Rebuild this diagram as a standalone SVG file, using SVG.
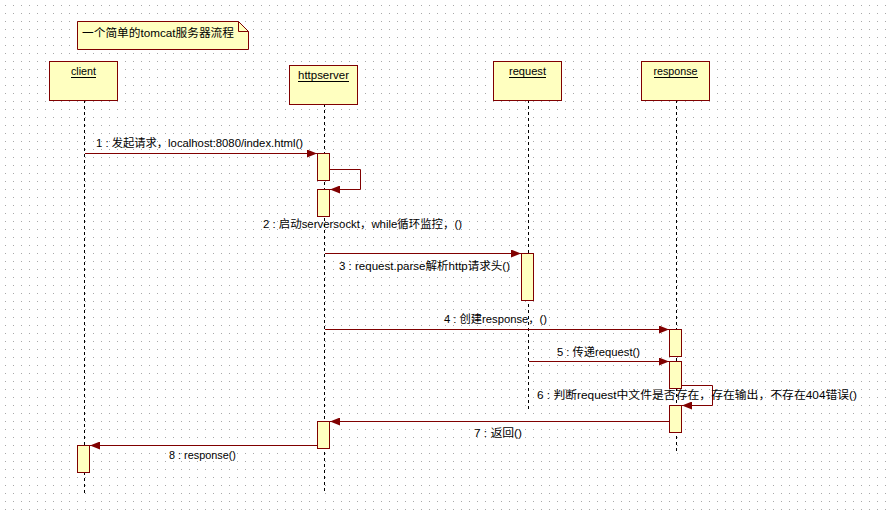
<svg xmlns="http://www.w3.org/2000/svg" width="889" height="511" viewBox="0 0 889 511">
<defs>
<pattern id="grid" x="5" y="5" width="8" height="8" patternUnits="userSpaceOnUse"><rect width="1" height="1" fill="#a8a8a8"/></pattern>
<marker id="ah" viewBox="0 0 10 8" refX="10" refY="4" markerWidth="10" markerHeight="8" orient="auto" markerUnits="userSpaceOnUse"><path d="M0,0 L10,4 L0,8 z" fill="#800000"/></marker>
<style>
.box{fill:#ffffc0;stroke:#800000;stroke-width:1}
.life{stroke:#000;stroke-width:1;stroke-dasharray:3,3;fill:none}
.msg{stroke:#800000;stroke-width:1;fill:none;marker-end:url(#ah)}
.t{font-family:"Liberation Sans","Noto Sans CJK SC",sans-serif;font-size:11px;fill:#000}
.c{text-anchor:middle}
.ul{stroke:#000;stroke-width:1}
</style>
</defs>
<rect width="889" height="511" fill="#fff"/>
<rect width="889" height="511" fill="url(#grid)"/>

<g id="note">
<path class="box" d="M77.5,21.5 H238.5 L248.5,31.5 V49.5 H77.5 Z"/>
<path d="M238.5,21.5 V31.5 H248.5" fill="none" stroke="#800000"/>
<text class="t" x="82" y="37" font-size="12px" textLength="152" lengthAdjust="spacingAndGlyphs">一个简单的tomcat服务器流程</text>
</g>

<g id="lifelines">
<line class="life" x1="84.5" y1="100" x2="84.5" y2="493"/>
<line class="life" x1="324.5" y1="104" x2="324.5" y2="493"/>
<line class="life" x1="528.5" y1="100" x2="528.5" y2="409"/>
<line class="life" x1="676.5" y1="100" x2="676.5" y2="452"/>
</g>

<g id="client">
<rect class="box" x="49.5" y="61.5" width="68" height="39"/>
<text class="t c" x="83.5" y="75" textLength="25" lengthAdjust="spacingAndGlyphs">client</text>
<line class="ul" x1="71" y1="77.5" x2="96" y2="77.5"/>
</g>
<g id="httpserver">
<rect class="box" x="289.5" y="65.5" width="68" height="39"/>
<text class="t c" x="323.5" y="79" textLength="51" lengthAdjust="spacingAndGlyphs">httpserver</text>
<line class="ul" x1="298" y1="81.5" x2="349" y2="81.5"/>
</g>
<g id="request">
<rect class="box" x="493.5" y="61.5" width="68" height="39"/>
<text class="t c" x="527.5" y="75" textLength="37" lengthAdjust="spacingAndGlyphs">request</text>
<line class="ul" x1="509" y1="77.5" x2="546" y2="77.5"/>
</g>
<g id="response">
<rect class="box" x="641.5" y="61.5" width="68" height="39"/>
<text class="t c" x="675.5" y="75" textLength="44" lengthAdjust="spacingAndGlyphs">response</text>
<line class="ul" x1="654" y1="77.5" x2="698" y2="77.5"/>
</g>

<g id="activations">
<rect class="box" x="317.5" y="153.5" width="12" height="27"/>
<rect class="box" x="317.5" y="189.5" width="12" height="27"/>
<rect class="box" x="521.5" y="253.5" width="12" height="47"/>
<rect class="box" x="669.5" y="329.5" width="12" height="27"/>
<rect class="box" x="669.5" y="361.5" width="12" height="27"/>
<rect class="box" x="669.5" y="405.5" width="12" height="27"/>
<rect class="box" x="317.5" y="421.5" width="12" height="27"/>
<rect class="box" x="77.5" y="445.5" width="12" height="27"/>
</g>

<g id="connectors">
<line class="msg" x1="85" y1="153.5" x2="317" y2="153.5"/>
<path class="msg" d="M329.5,169.5 H360.5 V189.5 H330"/>
<line class="msg" x1="325" y1="253.5" x2="521" y2="253.5"/>
<line class="msg" x1="325" y1="329.5" x2="669" y2="329.5"/>
<line class="msg" x1="529" y1="361.5" x2="669" y2="361.5"/>
<path class="msg" d="M681.5,385.5 H712.5 V405.5 H682"/>
<line class="msg" x1="669" y1="421.5" x2="330" y2="421.5"/>
<line class="msg" x1="317" y1="445.5" x2="90" y2="445.5"/>
</g>

<g id="labels">
<text class="t" x="96" y="147" textLength="207" lengthAdjust="spacingAndGlyphs">1 : 发起请求，localhost:8080/index.html()</text>
<text class="t" x="263" y="228" textLength="199" lengthAdjust="spacingAndGlyphs">2 : 启动serversockt，while循环监控，()</text>
<text class="t" x="339" y="270" textLength="171" lengthAdjust="spacingAndGlyphs">3 : request.parse解析http请求头()</text>
<text class="t" x="444" y="323" textLength="103" lengthAdjust="spacingAndGlyphs">4 : 创建response，()</text>
<text class="t" x="557" y="356" textLength="83" lengthAdjust="spacingAndGlyphs">5 : 传递request()</text>
<text class="t" x="537" y="399" textLength="320" lengthAdjust="spacingAndGlyphs">6 : 判断request中文件是否存在，存在输出，不存在404错误()</text>
<text class="t" x="474" y="437" textLength="48" lengthAdjust="spacingAndGlyphs">7 : 返回()</text>
<text class="t" x="169" y="459" textLength="67" lengthAdjust="spacingAndGlyphs">8 : response()</text>
</g>
</svg>
